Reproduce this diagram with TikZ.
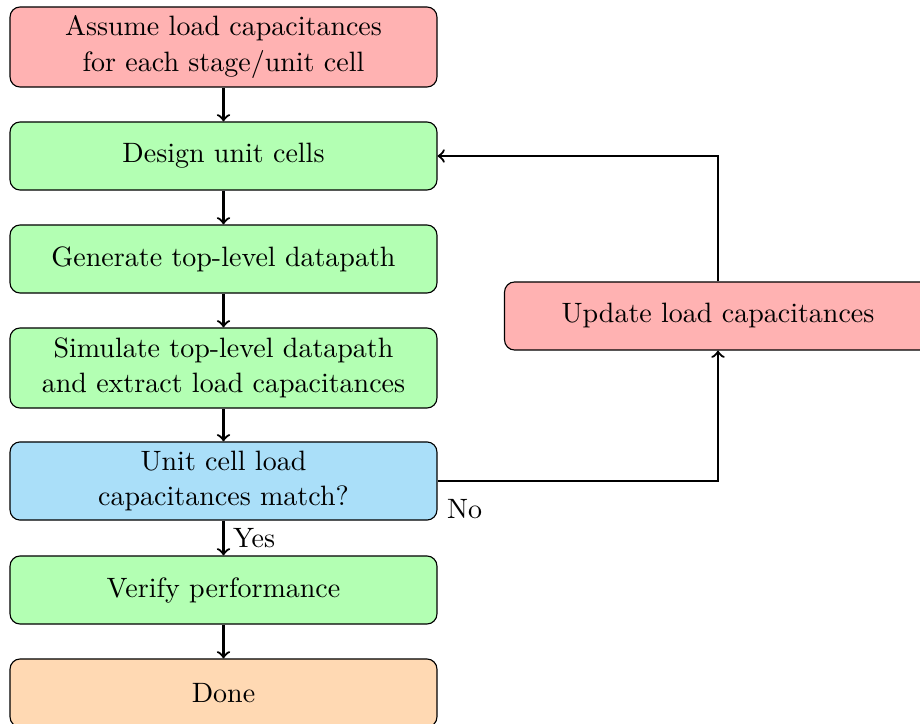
\documentclass[tikz,border=0pt]{standalone}
\usetikzlibrary{positioning}
\definecolor{boxred}{RGB}{255,178,178}
\definecolor{boxgreen}{RGB}{179,255,179}
\definecolor{boxblue}{RGB}{170,223,249}
\definecolor{boxorange}{RGB}{255,217,179}
\tikzset{
  flowbox/.style={draw, rounded corners=3.6pt, minimum width=152.5pt, inner sep=2pt, align=center, font=\fontsize{10}{12.6}\selectfont},
  short/.style={flowbox, minimum height=24.3pt},
  tall/.style={flowbox, minimum height=28.6pt},
  conn/.style={thick, ->},
  lbl/.style={font=\fontsize{10}{12}\selectfont}
}
\begin{document}
\begin{tikzpicture}[x=0.3572pt, y=-0.3572pt]
\useasboundingbox (0,0) rectangle (920,724);
\node[tall, fill=boxred] (a) at (223.5,47) {Assume load capacitances\\for each stage/unit cell};
\node[short, fill=boxgreen] (b) at (223.5,156) {Design unit cells};
\node[short, fill=boxgreen] (c) at (223.5,259) {Generate top-level datapath};
\node[tall, fill=boxgreen] (d) at (223.5,368) {Simulate top-level datapath\\and extract load capacitances};
\node[flowbox, minimum height=27.9pt, fill=boxblue] (e) at (223.5,481) {Unit cell load\\capacitances match?};
\node[short, fill=boxgreen] (f) at (223.5,590) {Verify performance};
\node[short, fill=boxorange] (g) at (223.5,693) {Done};
\node[short, fill=boxred] (u) at (718,316) {Update load capacitances};
\draw[conn] (a) -- (b);
\draw[conn] (b) -- (c);
\draw[conn] (c) -- (d);
\draw[conn] (d) -- (e);
\draw[conn] (e) -- node[lbl, right, inner sep=3pt] {Yes} (f);
\draw[conn] (f) -- (g);
\draw[conn] (e.east) -- node[lbl, pos=0.0, anchor=north west, inner sep=3pt, yshift=-3pt] {No} ++(0,0) -| (u.south);
\draw[conn] (u.north) |- (b.east);
\end{tikzpicture}
\end{document}
